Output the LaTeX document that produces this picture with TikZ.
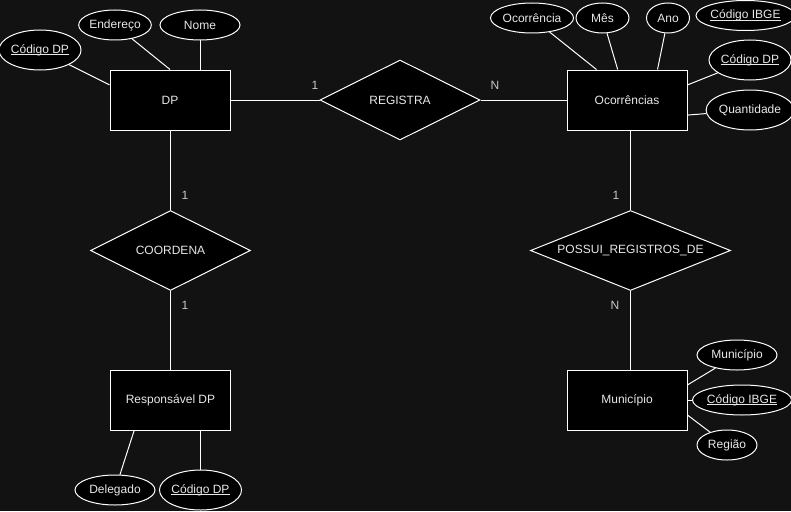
\documentclass[tikz,border=0pt]{standalone}
\usepackage{fontspec}
\setmainfont{Liberation Sans}
\usetikzlibrary{shapes.geometric}
\definecolor{bgdark}{HTML}{121212}
\definecolor{txtlight}{HTML}{E8E8E8}
\definecolor{cardgray}{HTML}{C8C8C8}
\newcommand{\ulkey}[1]{\setbox0\hbox{#1}\rlap{\rule[-1.8pt]{\wd0}{0.7pt}}\box0}
\tikzset{
    base/.style={draw=white, fill=black, line width=1pt, inner sep=0pt, text=txtlight, font=\fontsize{12}{14}\selectfont},
    entity/.style={base, rectangle, minimum width=120pt, minimum height=60pt},
    attr/.style={base, ellipse},
    rel/.style={base, diamond, shape aspect=2.5},
    card/.style={text=cardgray, inner sep=0pt, font=\fontsize{12}{14}\selectfont},
    link/.style={draw=white, line width=1pt},
}

\begin{document}
\begin{tikzpicture}[x=1pt, y=-1pt]
    \fill[bgdark] (0,0) rectangle (791,511);
    \useasboundingbox (0,0) rectangle (791,511);
    % DP
    \node[entity] (dp) at (170,100) {DP};
    \node[attr, minimum width=80pt, minimum height=40pt] (dpcod) at (40,50) {\ulkey{Código DP}};
    \node[attr, minimum width=70pt, minimum height=30pt] (dpend) at (115,25) {Endereço};
    \node[attr, minimum width=80pt, minimum height=30pt] (dpnome) at (200,25) {Nome};
    \draw[link] (dpcod) -- (dp.166);
    \draw[link] (dpend) -- (dp.north);
    \draw[link] (dpnome) -- (dpnome |- dp.north);
    % Ocorrencias
    \node[entity] (oc) at (627,100) {Ocorrências};
    \node[attr, minimum width=72pt, minimum height=30pt] (ococ) at (532,18) {Ocorrência};
    \node[attr, minimum width=53pt, minimum height=30pt] (ocmes) at (602.5,18) {Mês};
    \node[attr, minimum width=43pt, minimum height=30pt] (ocano) at (668,18) {Ano};
    \node[attr, minimum width=89pt, minimum height=30pt] (ocibge) at (745.5,15.5) {\ulkey{Código IBGE}};
    \node[attr, minimum width=80pt, minimum height=40pt] (occod) at (750,60) {\ulkey{Código DP}};
    \node[attr, minimum width=80pt, minimum height=40pt] (ocqtd) at (750,110) {Quantidade};
    \draw[link] (ococ) -- (oc.135);
    \draw[link] (ocmes) -- (oc.107);
    \draw[link] (ocano) -- (oc.45);
    \draw[link] (occod) -- (oc.14);
    \draw[link] (ocqtd) -- (oc.-14);
    % REGISTRA
    \node[rel, minimum width=160pt, minimum height=80pt] (reg) at (400,100) {REGISTRA};
    \draw[link] (dp.east) -- (reg.west);
    \draw[link] (reg.east) -- (oc.west);
    \node[card] (regum) at (315,85) {1};
    \node[card] (regn) at (495,85) {N};
    % COORDENA
    \node[rel, minimum width=160pt, minimum height=80pt] (coord) at (170.5,250.5) {COORDENA};
    \node[entity] (resp) at (170.5,400) {Responsável DP};
    \draw[link] (coord.north |- dp.south) -- (coord.north);
    \draw[link] (coord.south) -- (resp.north);
    \node[card] (coordum) at (185,195) {1};
    \node[card] (coorddois) at (185,305) {1};
    \node[attr, minimum width=80pt, minimum height=30pt] (respdel) at (115,490) {Delegado};
    \node[attr, minimum width=80pt, minimum height=40pt] (respcod) at (200.5,490) {\ulkey{Código DP}};
    \draw[link] (respdel) -- (resp.220);
    \draw[link] (respcod) -- (respcod |- resp.south);
    % POSSUI_REGISTROS_DE
    \node[rel, minimum width=200pt, minimum height=80pt] (poss) at (630.5,250.5) {POSSUI\_REGISTROS\_DE};
    \node[entity] (mun) at (627,400) {Município};
    \draw[link] (poss.north |- oc.south) -- (poss.north);
    \draw[link] (poss.south) -- (poss.south |- mun.north);
    \node[card] (possum) at (616,195) {1};
    \node[card] (possn) at (615,305) {N};
    \node[attr, minimum width=80pt, minimum height=30pt] (munnome) at (737,355) {Município};
    \node[attr, minimum width=90pt, minimum height=30pt] (munibge) at (742,400) {\ulkey{Código IBGE}};
    \node[attr, minimum width=60pt, minimum height=30pt] (munreg) at (727,445) {Região};
    \draw[link] (munnome) -- (mun.14);
    \draw[link] (munibge) -- (mun.east);
    \draw[link] (munreg) -- (mun.-14);
\end{tikzpicture}
\end{document}
